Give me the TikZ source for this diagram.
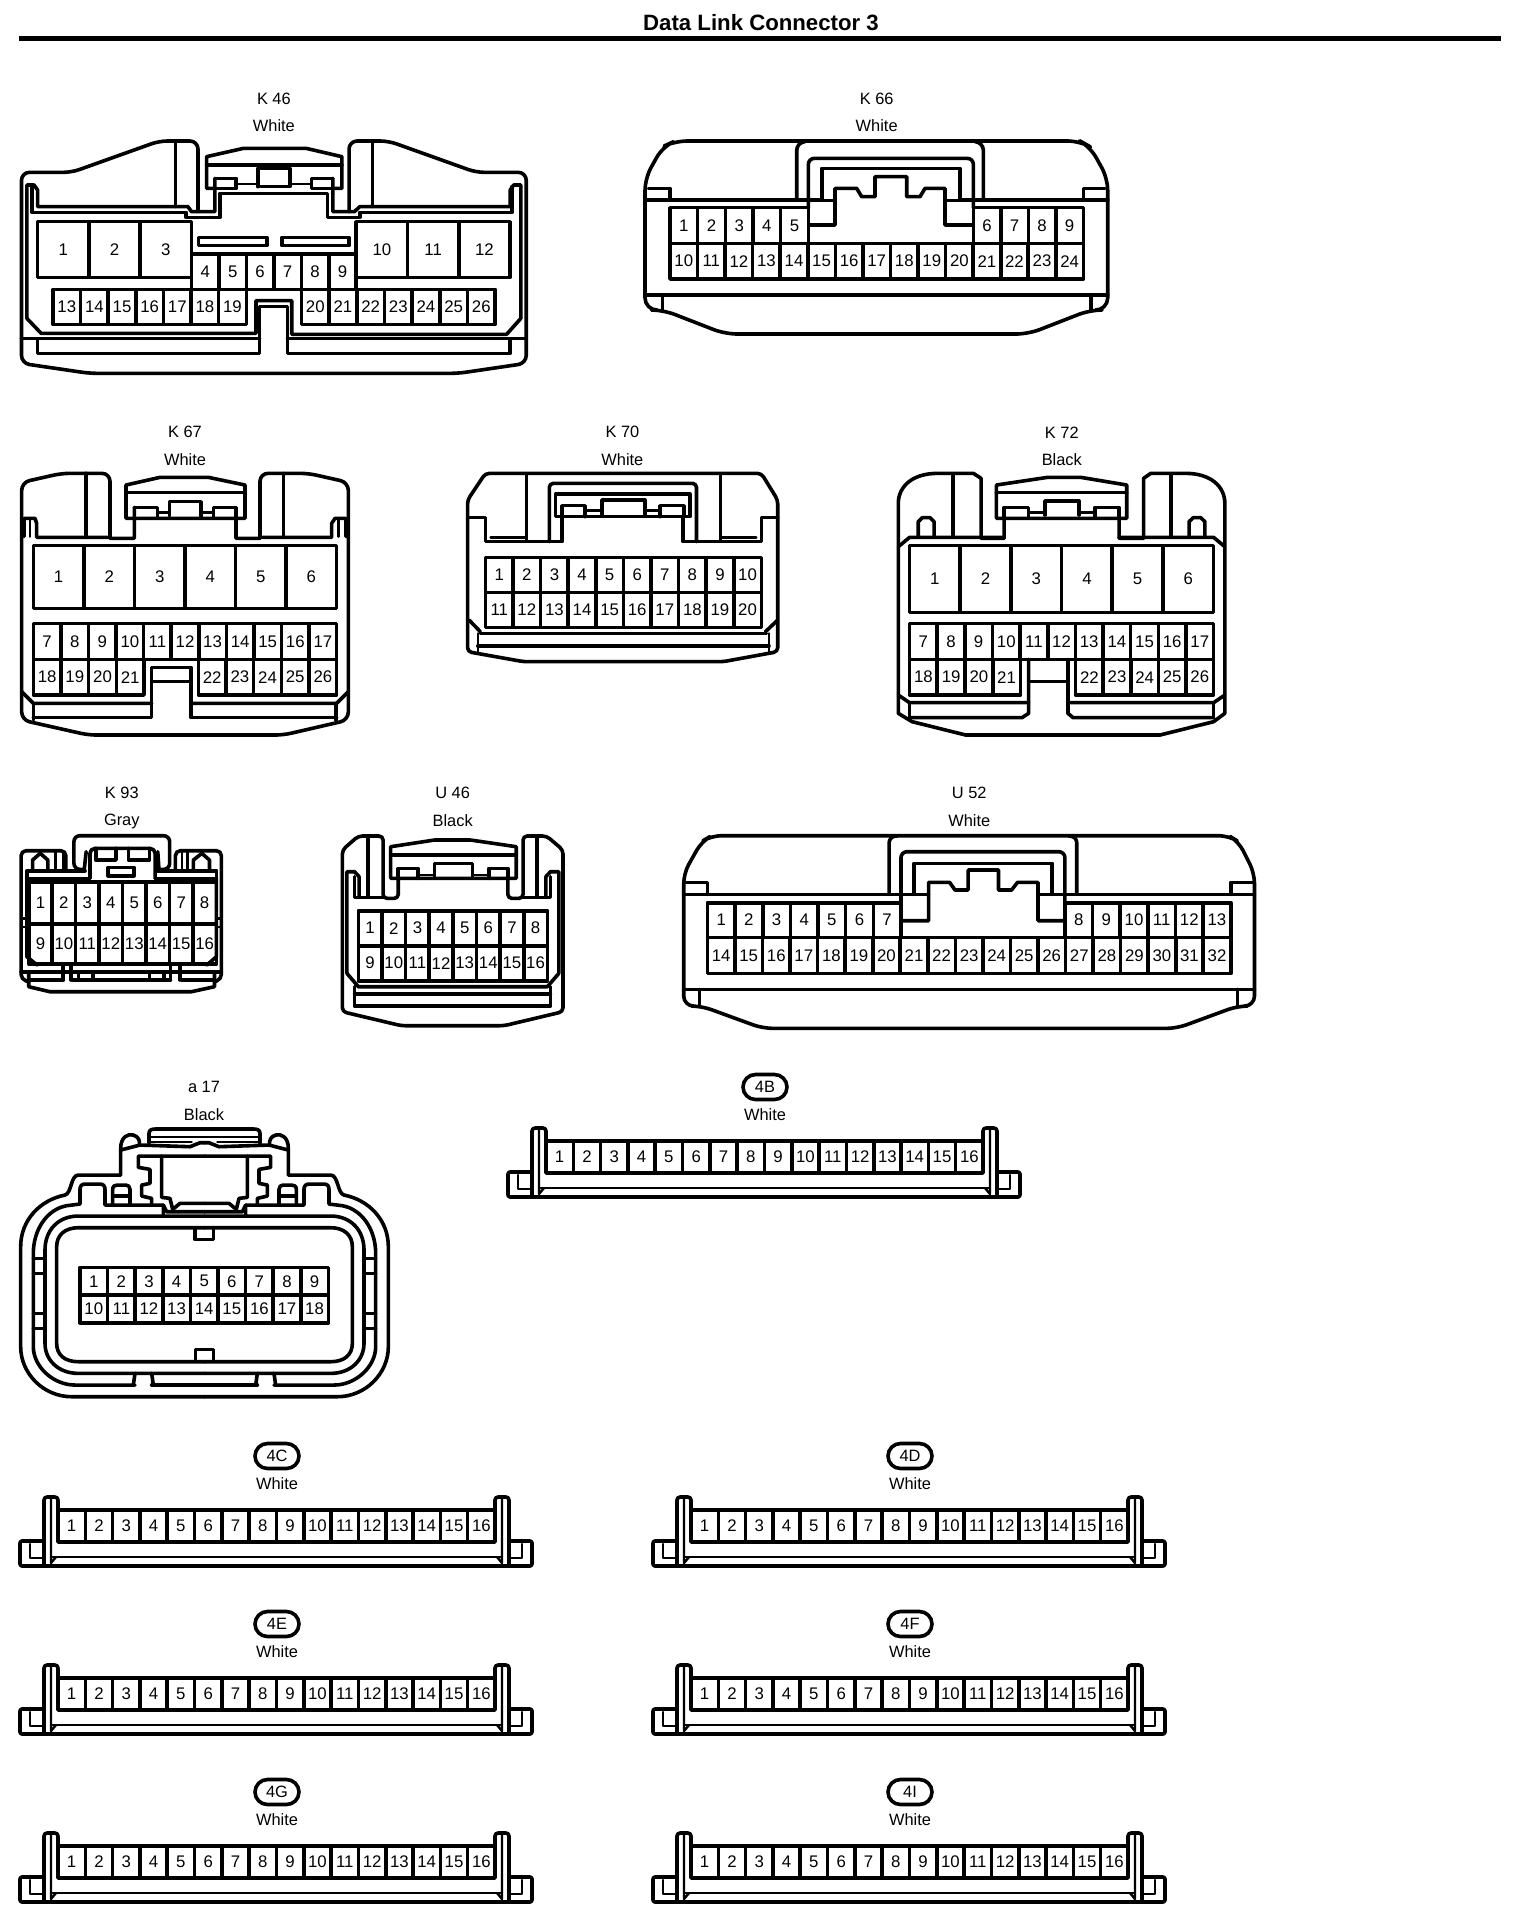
\documentclass[tikz,border=0pt]{standalone}
\usepackage{fontspec}
\setmainfont{Liberation Sans}
\usetikzlibrary{shapes.misc}
\tikzset{
  ln/.style={line width=1.8pt,line join=round,line cap=round},
  tn/.style={line width=1.2pt,line join=round,line cap=round},
  rc/.style={rounded corners=#1},
  pinlab/.style={inner sep=0pt,font=\fontsize{8.4}{9}\selectfont},
  caplab/.style={inner sep=0pt,font=\fontsize{8.2}{9}\selectfont},
  ovalbox/.style={draw,line width=1.8pt,rounded rectangle,inner sep=0pt,minimum width=22pt,minimum height=12.5pt,font=\fontsize{8.2}{9}\selectfont},
  zm/.style n args={3}{x=#1,y=-0.16667pt,shift={(#2,#3)}}
}
\newcommand{\pinrow}[6]{%
  \pgfmathsetmacro\pdx{(#2-#1)/#6}%
  \foreach \i in {1,...,#6}{%
    \pgfmathsetmacro\xa{#1+(\i-1)*\pdx}%
    \pgfmathsetmacro\xb{#1+\i*\pdx}%
    \pgfmathsetmacro\xc{(\xa+\xb)/2}%
    \pgfmathsetmacro\yc{(#3+#4)/2}%
    \pgfmathtruncatemacro\num{#5+\i-1}%
    \draw[ln] (\xa,#3) rectangle (\xb,#4);
    \node[pinlab] (\cn-\num) at (\xc,\yc) {\num};
  }}
\newcommand{\caps}[5]{%
  \node[caplab] (\cn-name) at (#1,#2) {#4};
  \node[caplab] (\cn-color) at (#1,#3) {#5};}
\newcommand{\strip}[3]{%
  \begin{scope}[shift={(#1,#2)}]
    \def\cn{s#3}
    \node[ovalbox] (s#3-oval) at (257,-85) {#3};
    \node[caplab] (s#3-color) at (257,-57) {White};
    \draw[ln,rc=1pt] (24,0)--(0,0)--(0,25)--(512,25)--(512,0)--(489,0);
    \draw[tn] (24,17)--(10,17)--(10,3);
    \draw[tn] (489,17)--(502,17)--(502,3);
    \draw[tn] (31,16)--(482,16);
    \draw[ln,rc=1.5pt] (24,25)--(24,-44)--(38,-44)--(38,-30);
    \draw[ln,rc=1.5pt] (489,25)--(489,-44)--(475,-44)--(475,-30);
    \draw[tn] (31,-44)--(31,22)--(36,16);
    \draw[tn] (482,-44)--(482,22)--(477,16);
    \pinrow{38}{475}{-31}{1}{1}{16}
  \end{scope}}
\newcommand{\ahalf}{%
  \draw[ln] (613.5,950) -- (215,950) .. controls (130,950) and (62,880) .. (62,800) -- (62,500) .. controls (62,420) and (120,360) .. (195,345) .. controls (215,340) and (212,285) .. (235,285) -- (362,285) -- (362,205);
  \draw[ln] (490,405)--(490,375)--(315,375)--(315,328) .. controls (315,318) and (310,312) .. (300,312) -- (255,312) .. controls (245,312) and (240,318) .. (240,328) -- (240,372) -- (200,377) .. controls (140,388) and (100,450) .. (100,520) -- (100,800) .. controls (100,860) and (160,915) .. (225,915) -- (405,915);
  \draw[ln] (455,915)--(613.5,915);
  \draw[ln] (613.5,408) -- (235,408) .. controls (175,408) and (135,450) .. (135,510) -- (135,790) .. controls (135,840) and (175,880) .. (235,880) -- (613.5,880);
  \draw[ln] (613.5,443) -- (235,443) .. controls (195,443) and (170,465) .. (170,500) -- (170,790) .. controls (170,825) and (195,845) .. (235,845) -- (613.5,845);
  \draw[ln] (405,880)--(400,915); \draw[ln] (455,880)--(460,915);
  \draw[ln] (100,535)--(135,535); \draw[ln] (100,580)--(135,580);
  \draw[ln] (100,700)--(135,700); \draw[ln] (100,745)--(135,745);
  \draw[ln] (338,372)--(338,328) .. controls (338,318) and (345,315) .. (352,315) -- (378,315) .. controls (385,315) and (390,320) .. (390,328) -- (390,372);
  \draw[ln] (338,348)--(390,348);
  \draw[ln] (362,205) .. controls (362,170) and (385,160) .. (400,165) .. controls (415,170) and (420,180) .. (418,195);
  \draw[ln] (362,210)--(420,195)--(570,200)--(600,188)--(613.5,188);
  \draw[ln] (613.5,228)--(415,228)--(415,262)--(450,268)--(450,310)--(425,315)--(425,348)--(455,355)--(455,372);
  \draw[ln] (485,228)--(485,352)--(510,355)--(518,388)--(540,370)--(613.5,370);
  \draw[ln] (490,375)--(500,395)--(613.5,395);
  \draw[ln] (447,190)--(447,160) .. controls (447,150) and (455,147) .. (465,147) -- (613.5,147);
  \draw[tn] (450,170)--(613.5,170);
  \draw[tn] (450,185)--(575,185);
}
\begin{document}
\begin{tikzpicture}[x=0.5pt,y=-0.5pt]
\useasboundingbox (0,0) rectangle (1536,1928);
\node[inner sep=0pt,font=\fontsize{11.1}{12}\bfseries\selectfont] (title) at (761,23) {Data Link Connector 3};
\coordinate (ruleL) at (19,38.5); \coordinate (ruleR) at (1501,38.5);
\draw[line width=2.35pt] (ruleL)--(ruleR);

% K46
\begin{scope}[zm={0.179pt}{0}{240}]
\def\cn{K46}
\caps{765}{58}{138}{K 46}{White}
\draw[ln,rc=4pt] (553,395)--(553,183)--(445,183)--(200,277)--(60,277)--(60,850)--(250,880)--(1280,880)--(1470,850)--(1470,277)--(1330,277)--(1085,183)--(975,183)--(975,395);
\draw[ln] (490,183)--(490,380); \draw[ln] (1040,183)--(1040,380);
\draw[ln] (75,715)--(75,315)--(95,315)--(105,330)--(105,380)--(525,380)--(535,395)--(600,395)--(600,295);
\draw[ln] (90,320)--(90,397)--(520,397)--(520,412)--(615,412)--(615,340)--(915,340)--(915,412)--(1005,412)--(1005,397)--(1430,397)--(1430,320);
\draw[ln] (1455,715)--(1455,315)--(1435,315)--(1425,330)--(1425,380)--(1005,380)--(990,395)--(930,395)--(930,295);
\draw[ln] (600,325)--(577,325)--(577,230)--(680,205)--(855,205)--(955,230)--(955,325)--(930,325);
\draw[ln] (577,255)--(955,255);
\draw[ln] (600,295)--(660,295)--(660,325)--(600,325);
\draw[ln] (930,295)--(870,295)--(870,325)--(930,325);
\draw[ln] (720,320)--(720,265)--(810,265)--(810,320)--(720,320);
\draw[tn] (660,312)--(720,312); \draw[tn] (810,312)--(870,312);
\draw[ln] (555,472) rectangle (745,497);
\draw[ln] (788,472) rectangle (975,497);
\pinrow{105}{535}{425}{592}{1}{3}
\pinrow{995}{1425}{425}{592}{10}{3}
\pinrow{535}{995}{522}{628}{4}{6}
\pinrow{148}{688}{628}{733}{13}{7}
\pinrow{842}{1383}{628}{733}{20}{7}
\draw[ln] (688,628)--(842,628);
\draw[ln] (75,715)--(115,760)--(715,760)--(715,662)--(815,662)--(815,763)--(1415,763)--(1455,715);
\draw[ln] (60,775)--(725,775); \draw[ln] (803,775)--(1470,775);
\draw[ln] (105,778)--(105,820)--(725,820)--(725,680)--(803,680)--(803,820)--(1425,820)--(1425,778);
\end{scope}

% K66
\begin{scope}[zm={0.16667pt}{1920}{240}]
\def\cn{K66}
\caps{710}{58}{138}{K 66}{White}
\draw[ln,rc=6pt] (15,690)--(15,295)--(68,200)--(105,183)--(1320,183)--(1350,200)--(1403,295)--(1403,690)--(1350,690)--(1165,762)--(255,762)--(70,690)--cycle;
\draw[ln] (15,645)--(1403,645);
\draw[ln] (15,360)--(545,360); \draw[ln] (960,360)--(1403,360);
\draw[ln] (25,325)--(90,325)--(90,360);
\draw[ln] (1395,325)--(1330,325)--(1330,360);
\draw[ln] (68,645)--(68,690); \draw[ln] (1353,645)--(1353,690);
\draw[ln,rc=4pt] (470,360)--(470,187)--(495,185);
\draw[ln,rc=4pt] (1030,360)--(1030,187)--(1005,185);
\draw[ln,rc=3pt] (505,383)--(505,235)--(1000,235)--(1000,383);
\draw[ln] (585,362)--(545,362)--(545,265)--(960,265)--(960,362)--(915,362);
\draw[ln] (507,435)--(585,435)--(585,325)--(650,325)--(665,350)--(705,350)--(705,290)--(800,290)--(800,350)--(840,350)--(855,325)--(915,325)--(915,435)--(1000,435);
\pinrow{90}{505}{383}{490}{1}{5}
\pinrow{1000}{1330}{383}{490}{6}{4}
\pinrow{90}{1330}{490}{597}{10}{15}
\end{scope}

% K67
\begin{scope}[zm={0.16667pt}{0}{1260}]
\def\cn{K67}
\caps{555}{37}{118}{K 67}{White}
\draw[ln,rc=4pt] (330,355)--(330,160)--(185,160)--(65,187)--(65,900)--(265,945)--(850,945)--(1045,900)--(1045,187)--(925,160)--(780,160)--(780,355);
\draw[ln] (258,160)--(258,352); \draw[ln] (850,160)--(850,352);
\draw[ln] (72,350)--(72,295)--(105,295)--(110,310)--(110,352)--(330,352)--(330,355)--(403,355)--(403,262);
\draw[ln] (1038,350)--(1038,295)--(1005,295)--(995,310)--(995,352)--(780,352)--(780,355)--(708,355)--(708,262);
\draw[tn] (90,300)--(90,350); \draw[tn] (1015,300)--(1015,350);
\draw[ln] (378,295)--(378,195)--(480,172)--(625,172)--(735,195)--(735,295)--cycle;
\draw[ln] (378,218)--(735,218);
\draw[ln] (403,262)--(472,262)--(472,290);
\draw[ln] (640,290)--(640,262)--(708,262);
\draw[ln] (508,288)--(508,245)--(603,245)--(603,288);
\draw[tn] (472,278)--(508,278); \draw[tn] (603,278)--(640,278);
\pinrow{100}{1010}{377}{565}{1}{6}
\pinrow{100}{1010}{610}{718}{7}{11}
\pinrow{100}{432}{718}{825}{18}{4}
\pinrow{595}{1010}{718}{825}{22}{5}
\draw[ln] (100,893)--(455,893)--(455,742)--(573,742)--(573,893)--(1010,893);
\draw[ln] (455,785)--(573,785);
\draw[ln] (65,815)--(100,850)--(455,850); \draw[ln] (573,850)--(1010,850)--(1045,815);
\draw[ln] (100,850)--(100,900); \draw[ln] (1008,850)--(1008,900);
\end{scope}

% K70
\begin{scope}[zm={0.2555pt}{900}{1260}]
\def\cn{K70}
\caps{318}{37}{118}{K 70}{White}
\draw[ln,rc=2pt] (15,640)--(15,240)--(50,160)--(590,160)--(622,240)--(622,695)--(515,725)--(125,725)--(15,695)--cycle;
\draw[ln] (15,292)--(50,292)--(50,365)--(200,365)--(200,290);
\draw[ln] (622,292)--(590,292)--(590,365)--(437,365)--(437,290);
\draw[tn] (130,165)--(130,360); \draw[tn] (510,165)--(510,360);
\draw[tn] (60,352)--(130,352); \draw[tn] (510,352)--(580,352);
\draw[ln,rc=2pt] (175,365)--(175,190)--(463,190)--(463,365);
\draw[ln] (187,290)--(187,222)--(450,222)--(450,290)--cycle;
\draw[ln] (200,290)--(200,257)--(245,257)--(245,290);
\draw[ln] (392,290)--(392,257)--(438,257)--(438,290);
\draw[ln] (278,287)--(278,240)--(362,240)--(362,287);
\draw[tn] (245,272)--(278,272); \draw[tn] (362,272)--(392,272);
\pinrow{50}{590}{412}{517}{1}{10}
\pinrow{50}{590}{517}{622}{11}{10}
\draw[ln] (40,640)--(600,640); \draw[ln] (35,678)--(605,678);
\draw[tn] (35,640)--(35,695); \draw[tn] (605,640)--(605,695);
\draw[ln] (18,600)--(40,635); \draw[ln] (622,600)--(598,635);
\end{scope}

% K72
\begin{scope}[zm={0.2555pt}{900}{1260}]
\def\cn{K72}
\caps{1178}{37}{118}{K 72}{Black}
\draw[ln] (1065,295)--(1065,355)--(1020,355)--(1020,175)--(1005,160)--(935,160) .. controls (885,160) and (858,200) .. (858,250) -- (858,880)--(885,905)--(990,945)--(1370,945)--(1475,905)--(1497,880)--(1497,250) .. controls (1497,200) and (1470,160) .. (1420,160) -- (1352,160)--(1338,175)--(1338,355)--(1290,355)--(1290,295);
\draw[ln] (965,165)--(965,350); \draw[ln] (1392,165)--(1392,350);
\draw[ln] (897,350)--(897,305)--(905,293)--(920,293)--(928,305)--(928,350);
\draw[ln] (1427,350)--(1427,305)--(1435,293)--(1450,293)--(1458,305)--(1458,350);
\draw[ln] (858,380)--(880,352)--(1065,352);
\draw[ln] (1290,352)--(1475,352)--(1497,380);
\draw[ln] (1050,295)--(1050,195)--(1150,172)--(1215,172)--(1305,195)--(1305,295)--cycle;
\draw[ln] (1050,218)--(1305,218);
\draw[ln] (1065,292)--(1065,262)--(1113,262)--(1113,290);
\draw[ln] (1243,290)--(1243,262)--(1290,262)--(1290,292);
\draw[ln] (1145,285)--(1145,243)--(1212,243)--(1212,285);
\draw[tn] (1113,278)--(1145,278); \draw[tn] (1212,278)--(1243,278);
\pinrow{880}{1475}{377}{577}{1}{6}
\pinrow{880}{1475}{610}{718}{7}{11}
\pinrow{880}{1097}{718}{825}{18}{4}
\pinrow{1205}{1475}{718}{825}{22}{5}
\draw[ln] (880,893)--(1100,893)--(1113,880)--(1113,718);
\draw[ln] (1475,893)--(1200,893)--(1190,880)--(1190,718);
\draw[ln] (1113,785)--(1190,785);
\draw[ln] (858,825)--(880,848)--(1113,848);
\draw[ln] (1190,848)--(1475,848)--(1497,825);
\draw[tn] (880,848)--(880,893); \draw[tn] (1475,848)--(1475,893);
\end{scope}

% K93
\begin{scope}[zm={0.1915pt}{0}{2340}]
\def\cn{K93}
\caps{318}{38}{123}{K 93}{Gray}
\draw[ln,rc=2.5pt] (172,272)--(172,212)--(55,212)--(55,598)--(75,605);
\draw[ln,rc=2.5pt] (458,272)--(458,212)--(578,212)--(578,598)--(560,605);
\draw[ln,rc=3pt] (220,268)--(193,268)--(193,167)--(443,167)--(443,268)--(415,268);
\draw[ln,rc=2.5pt] (235,295)--(235,205)--(405,205)--(405,295);
\draw[ln] (220,268)--(225,215); \draw[ln] (415,268)--(412,215);
\draw[ln] (250,205)--(250,240)--(303,240)--(303,205);
\draw[ln] (335,205)--(335,240)--(390,240)--(390,205);
\draw[ln] (282,262) rectangle (350,287);
\draw[ln] (85,268)--(85,240)--(105,220)--(125,240)--(125,268);
\draw[ln] (505,268)--(505,240)--(527,220)--(547,240)--(547,268);
\draw[tn] (145,215)--(145,270); \draw[tn] (165,215)--(165,270);
\draw[tn] (475,215)--(475,270); \draw[tn] (490,215)--(490,270);
\draw[ln] (70,295)--(70,272)--(222,272); \draw[ln] (412,272)--(565,272)--(565,295);
\draw[ln] (70,295)--(235,295); \draw[ln] (405,295)--(565,295);
\pinrow{75}{565}{305}{432}{1}{8}
\pinrow{75}{565}{432}{552}{9}{8}
\draw[ln] (70,295)--(70,530)--(97,555); \draw[ln] (565,295)--(565,530)--(540,555);
\draw[tn] (60,415)--(75,415)--(75,440)--(60,440);
\draw[tn] (575,415)--(565,415)--(565,440)--(575,440);
\draw[ln] (55,575)--(578,575);
\draw[ln] (75,600)--(165,600); \draw[ln] (190,600)--(445,600); \draw[ln] (475,600)--(560,600);
\draw[ln] (75,578)--(75,620)--(130,635)--(500,635)--(560,620)--(560,578);
\draw[ln] (165,558)--(165,600); \draw[ln] (185,558)--(185,600);
\draw[ln] (445,558)--(445,600); \draw[ln] (470,558)--(470,600);
\draw[ln] (205,578)--(205,600); \draw[ln] (243,578)--(243,600);
\draw[ln] (390,578)--(390,600); \draw[ln] (428,578)--(428,600);
\end{scope}

% U46
\begin{scope}[zm={0.1902pt}{7}{2340}]
\def\cn{U46}
\caps{1183}{38}{123}{U 46}{Black}
\draw[ln,rc=2pt] (1040,295)--(1040,355)--(1000,355)--(1000,168)--(935,168)--(893,210)--(893,695)--(1048,737)--(1318,737)--(1473,695)--(1473,210)--(1430,168)--(1368,168)--(1368,355)--(1328,355)--(1328,295);
\draw[ln] (960,175)--(960,352); \draw[ln] (1405,175)--(1405,352);
\draw[ln] (905,580)--(905,275)--(925,275)--(937,290)--(937,352);
\draw[ln] (1462,580)--(1462,275)--(1440,275)--(1428,290)--(1428,352);
\draw[ln] (925,290)--(925,352)--(1000,352);
\draw[ln] (1368,352)--(1440,352)--(1440,290);
\draw[ln] (1020,295)--(1020,200)--(1135,180)--(1230,180)--(1350,200)--(1350,295)--cycle;
\draw[ln] (1020,225)--(1350,225);
\draw[ln] (1040,295)--(1040,265)--(1092,265)--(1092,295);
\draw[ln] (1278,295)--(1278,265)--(1328,265)--(1328,295);
\draw[ln] (1135,290)--(1135,250)--(1235,250)--(1235,290);
\draw[tn] (1092,285)--(1135,285); \draw[tn] (1235,285)--(1278,285);
\pinrow{935}{1432}{392}{497}{1}{8}
\pinrow{935}{1432}{497}{602}{9}{8}
\draw[ln] (905,580)--(935,620)--(1432,620)--(1462,580);
\draw[ln] (925,620)--(925,678)--(1440,678)--(1440,620);
\draw[ln] (925,642)--(1440,642);
\end{scope}

% U52
\begin{scope}[zm={0.1975pt}{1696}{2340}]
\def\cn{U52}
\caps{758}{38}{123}{U 52}{White}
\draw[ln,rc=5pt] (35,678)--(35,280)--(80,185)--(105,167)--(1415,167)--(1440,185)--(1480,280)--(1480,678)--(1437,678)--(1283,745)--(235,745)--(80,678)--cycle;
\draw[ln] (35,628)--(1480,628);
\draw[ln] (35,343)--(655,343); \draw[ln] (932,343)--(1480,343);
\draw[ln] (40,307)--(95,307)--(95,343);
\draw[ln] (1478,307)--(1420,307)--(1420,343);
\draw[ln] (75,628)--(75,678); \draw[ln] (1437,628)--(1437,678);
\draw[ln,rc=3pt] (555,343)--(555,170)--(575,168);
\draw[ln,rc=3pt] (1030,343)--(1030,170)--(1010,168);
\draw[ln,rc=3pt] (585,368)--(585,215)--(1000,215)--(1000,368);
\draw[ln] (618,343)--(618,250)--(968,250)--(968,343);
\draw[ln] (585,422)--(655,422)--(655,307)--(708,307)--(722,330)--(755,330)--(755,270)--(832,270)--(832,330)--(865,330)--(880,307)--(932,307)--(932,422)--(1000,422);
\pinrow{95}{585}{368}{472}{1}{7}
\pinrow{1000}{1420}{368}{472}{8}{6}
\pinrow{95}{1420}{472}{580}{14}{19}
\end{scope}

% a17
\begin{scope}[zm={0.16667pt}{0}{3240}]
\def\cn{a17}
\caps{612}{22}{105}{a 17}{Black}
\ahalf
\begin{scope}[shift={(1227,0)},xscale=-1]
\ahalf
\end{scope}
\draw[ln] (585,445)--(585,478)--(640,478)--(640,445);
\draw[ln] (587,842)--(587,808)--(640,808)--(640,842);
\pinrow{240}{985}{562}{645}{1}{9}
\pinrow{240}{985}{645}{728}{10}{9}
\end{scope}

% strips
\strip{508}{1172}{4B}
\strip{20}{1541}{4C}
\strip{653}{1541}{4D}
\strip{20}{1709}{4E}
\strip{653}{1709}{4F}
\strip{20}{1877}{4G}
\strip{653}{1877}{4I}
\end{tikzpicture}
\end{document}
